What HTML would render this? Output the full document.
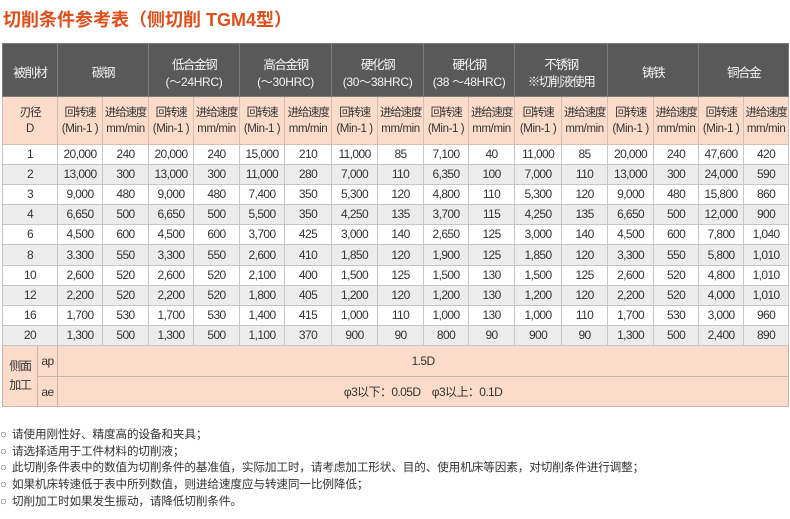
<!DOCTYPE html>
<html>
<head>
<meta charset="utf-8">
<style>
  html,body{margin:0;padding:0;background:#fff;}
  body{width:790px;height:519px;position:relative;overflow:hidden;
       font-family:"Liberation Sans","Noto Sans CJK SC",sans-serif;color:#333;}
  .title{position:absolute;left:3px;top:10px;height:20px;line-height:20px;
         font-size:18px;font-weight:bold;color:#e04e1a;white-space:nowrap;
         font-family:"Liberation Sans","Noto Sans CJK SC",sans-serif;letter-spacing:0px;}
  table{position:absolute;left:2px;top:43px;width:786px;border-collapse:collapse;
        table-layout:fixed;border:1px solid #8a8a8a;}
  td{padding:0;text-align:center;vertical-align:middle;white-space:nowrap;overflow:visible;
     border:1px solid #c6c6c6;font-size:12px;letter-spacing:-0.6px;color:#333;}
  tr.h td{background:#595959;color:#f4f4f4;border-color:#7c7c7c;height:53px;
          font-size:12px;line-height:17px;padding-top:7px;box-sizing:border-box;letter-spacing:-0.3px;}
  tr.h td .z{letter-spacing:-1.4px;font-size:12.5px;}
  tr.s td{background:#fbdccb;height:47px;font-size:11.5px;line-height:16px;letter-spacing:-0.4px;border-color:#d3c0b5;}
  tr.s td .z{letter-spacing:-1.2px;}
  tr.d td{height:19px;line-height:17px;}
  tr.d.g td{background:#ececec;}
  tr.p td{background:#fbdccb;border-color:#c9b4a8;font-size:12px;}
  tr.p td .z{letter-spacing:-1.2px;}
  .n{position:absolute;left:0;height:17px;line-height:17px;font-size:11.6px;color:#333;
     font-family:"Liberation Sans","Noto Sans CJK SC",sans-serif;white-space:nowrap;letter-spacing:-0.1px;}
  .n .c{color:#666;display:inline-block;width:12px;text-align:left;}
</style>
</head>
<body>
<div class="title">切削条件参考表（侧切削 TGM4型）</div>

<table>
<colgroup>
<col style="width:35px"><col style="width:20px">
<col style="width:45px"><col style="width:46px">
<col style="width:45px"><col style="width:46px">
<col style="width:45px"><col style="width:47px">
<col style="width:46px"><col style="width:46px">
<col style="width:45px"><col style="width:46px">
<col style="width:47px"><col style="width:46px">
<col style="width:46px"><col style="width:45px">
<col style="width:45px"><col style="width:45px">
</colgroup>
<tr class="h">
<td colspan="2"><span class="z">被削材</span></td>
<td colspan="2"><span class="z">碳钢</span></td>
<td colspan="2"><span class="z">低合金钢</span><br>(～24HRC)</td>
<td colspan="2"><span class="z">高合金钢</span><br>(～30HRC)</td>
<td colspan="2"><span class="z">硬化钢</span><br>(30～38HRC)</td>
<td colspan="2"><span class="z">硬化钢</span><br>(38 ～48HRC)</td>
<td colspan="2"><span class="z">不锈钢</span><br><span class="z">※切削液使用</span></td>
<td colspan="2"><span class="z">铸铁</span></td>
<td colspan="2"><span class="z">铜合金</span></td>
</tr>
<tr class="s">
<td colspan="2"><span class="z">刃径</span><br>D</td>
<td><span class="z">回转速</span><br>(Min-1 )</td><td><span class="z">进给速度</span><br>mm/min</td>
<td><span class="z">回转速</span><br>(Min-1 )</td><td><span class="z">进给速度</span><br>mm/min</td>
<td><span class="z">回转速</span><br>(Min-1 )</td><td><span class="z">进给速度</span><br>mm/min</td>
<td><span class="z">回转速</span><br>(Min-1 )</td><td><span class="z">进给速度</span><br>mm/min</td>
<td><span class="z">回转速</span><br>(Min-1 )</td><td><span class="z">进给速度</span><br>mm/min</td>
<td><span class="z">回转速</span><br>(Min-1 )</td><td><span class="z">进给速度</span><br>mm/min</td>
<td><span class="z">回转速</span><br>(Min-1 )</td><td><span class="z">进给速度</span><br>mm/min</td>
<td><span class="z">回转速</span><br>(Min-1 )</td><td><span class="z">进给速度</span><br>mm/min</td>
</tr>
<tr class="d"><td colspan="2">1</td><td>20,000</td><td>240</td><td>20,000</td><td>240</td><td>15,000</td><td>210</td><td>11,000</td><td>85</td><td>7,100</td><td>40</td><td>11,000</td><td>85</td><td>20,000</td><td>240</td><td>47,600</td><td>420</td></tr>
<tr class="d g"><td colspan="2">2</td><td>13,000</td><td>300</td><td>13,000</td><td>300</td><td>11,000</td><td>280</td><td>7,000</td><td>110</td><td>6,350</td><td>100</td><td>7,000</td><td>110</td><td>13,000</td><td>300</td><td>24,000</td><td>590</td></tr>
<tr class="d"><td colspan="2">3</td><td>9,000</td><td>480</td><td>9,000</td><td>480</td><td>7,400</td><td>350</td><td>5,300</td><td>120</td><td>4,800</td><td>110</td><td>5,300</td><td>120</td><td>9,000</td><td>480</td><td>15,800</td><td>860</td></tr>
<tr class="d g"><td colspan="2">4</td><td>6,650</td><td>500</td><td>6,650</td><td>500</td><td>5,500</td><td>350</td><td>4,250</td><td>135</td><td>3,700</td><td>115</td><td>4,250</td><td>135</td><td>6,650</td><td>500</td><td>12,000</td><td>900</td></tr>
<tr class="d"><td colspan="2">6</td><td>4,500</td><td>600</td><td>4,500</td><td>600</td><td>3,700</td><td>425</td><td>3,000</td><td>140</td><td>2,650</td><td>125</td><td>3,000</td><td>140</td><td>4,500</td><td>600</td><td>7,800</td><td>1,040</td></tr>
<tr class="d g"><td colspan="2" style="height:20px">8</td><td>3.300</td><td>550</td><td>3,300</td><td>550</td><td>2,600</td><td>410</td><td>1,850</td><td>120</td><td>1,900</td><td>125</td><td>1,850</td><td>120</td><td>3,300</td><td>550</td><td>5,800</td><td>1,010</td></tr>
<tr class="d"><td colspan="2">10</td><td>2,600</td><td>520</td><td>2,600</td><td>520</td><td>2,100</td><td>400</td><td>1,500</td><td>125</td><td>1,500</td><td>130</td><td>1,500</td><td>125</td><td>2,600</td><td>520</td><td>4,800</td><td>1,010</td></tr>
<tr class="d g"><td colspan="2">12</td><td>2,200</td><td>520</td><td>2,200</td><td>520</td><td>1,800</td><td>405</td><td>1,200</td><td>120</td><td>1,200</td><td>130</td><td>1,200</td><td>120</td><td>2,200</td><td>520</td><td>4,000</td><td>1,010</td></tr>
<tr class="d"><td colspan="2">16</td><td>1,700</td><td>530</td><td>1,700</td><td>530</td><td>1,400</td><td>415</td><td>1,000</td><td>110</td><td>1,000</td><td>130</td><td>1,000</td><td>110</td><td>1,700</td><td>530</td><td>3,000</td><td>960</td></tr>
<tr class="d g"><td colspan="2">20</td><td>1,300</td><td>500</td><td>1,300</td><td>500</td><td>1,100</td><td>370</td><td>900</td><td>90</td><td>800</td><td>90</td><td>900</td><td>90</td><td>1,300</td><td>500</td><td>2,400</td><td>890</td></tr>
<tr class="p"><td rowspan="2" style="line-height:19px"><span class="z">侧面</span><br><span class="z">加工</span></td><td style="height:30px">ap</td><td colspan="16">1.5D</td></tr>
<tr class="p"><td style="height:29px">ae</td><td colspan="16">φ3以下：0.05D　φ3以上：0.1D</td></tr>
</table>

<div class="n" style="top:426px"><span class="c">○</span>请使用刚性好、精度高的设备和夹具；</div>
<div class="n" style="top:443px"><span class="c">○</span>请选择适用于工件材料的切削液；</div>
<div class="n" style="top:459px"><span class="c">○</span>此切削条件表中的数值为切削条件的基准值，实际加工时，请考虑加工形状、目的、使用机床等因素，对切削条件进行调整；</div>
<div class="n" style="top:476px"><span class="c">○</span>如果机床转速低于表中所列数值，则进给速度应与转速同一比例降低；</div>
<div class="n" style="top:493px"><span class="c">○</span>切削加工时如果发生振动，请降低切削条件。</div>
</body>
</html>
